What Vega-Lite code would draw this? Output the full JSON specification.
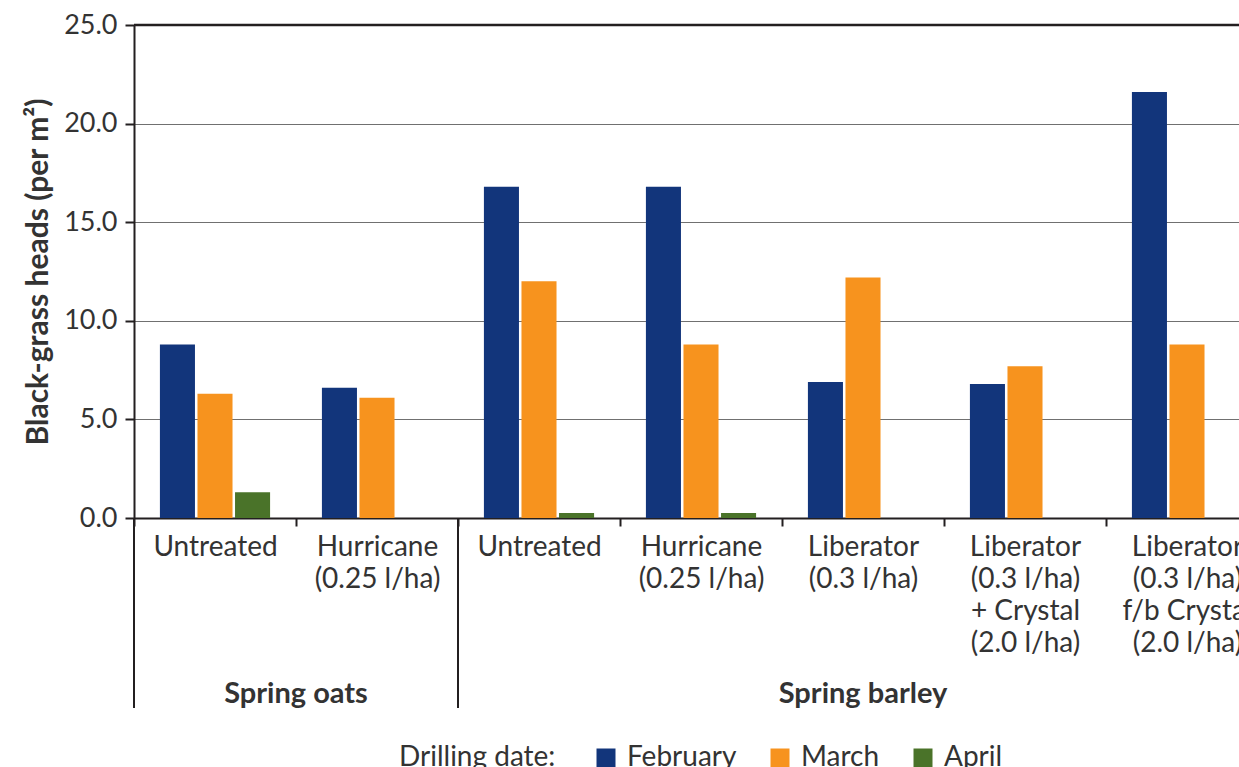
{
  "$schema": "https://vega.github.io/schema/vega-lite/v6.json",
  "width": 1134,
  "height": 493,
  "padding": {"left": 23, "top": 11, "right": 0, "bottom": 0},
  "autosize": {"type": "pad"},
  "config": {
    "font": "Lato",
    "view": {"stroke": null},
    "axis": {"labelColor": "#333333", "titleColor": "#333333"},
    "legend": {"layout": {"bottom": {"anchor": "middle"}}}
  },
  "datasets": {
    "bars": [
      {"t": "oats|Untreated", "date": "February", "heads": 8.8},
      {"t": "oats|Untreated", "date": "March", "heads": 6.3},
      {"t": "oats|Untreated", "date": "April", "heads": 1.3},
      {"t": "oats|Hurricane|(0.25 l/ha)", "date": "February", "heads": 6.6},
      {"t": "oats|Hurricane|(0.25 l/ha)", "date": "March", "heads": 6.1},
      {"t": "barley|Untreated", "date": "February", "heads": 16.8},
      {"t": "barley|Untreated", "date": "March", "heads": 12.0},
      {"t": "barley|Untreated", "date": "April", "heads": 0.25},
      {"t": "barley|Hurricane|(0.25 l/ha)", "date": "February", "heads": 16.8},
      {"t": "barley|Hurricane|(0.25 l/ha)", "date": "March", "heads": 8.8},
      {"t": "barley|Hurricane|(0.25 l/ha)", "date": "April", "heads": 0.25},
      {"t": "barley|Liberator|(0.3 l/ha)", "date": "February", "heads": 6.9},
      {"t": "barley|Liberator|(0.3 l/ha)", "date": "March", "heads": 12.2},
      {"t": "barley|Liberator|(0.3 l/ha)|+ Crystal|(2.0 l/ha)", "date": "February", "heads": 6.8},
      {"t": "barley|Liberator|(0.3 l/ha)|+ Crystal|(2.0 l/ha)", "date": "March", "heads": 7.7},
      {"t": "barley|Liberator|(0.3 l/ha)|f/b Crystal|(2.0 l/ha)", "date": "February", "heads": 21.6},
      {"t": "barley|Liberator|(0.3 l/ha)|f/b Crystal|(2.0 l/ha)", "date": "March", "heads": 8.8}
    ],
    "crops": [
      {"crop": "Spring oats", "first": "oats|Untreated", "mid": "oats|Hurricane|(0.25 l/ha)"},
      {"crop": "Spring barley", "first": "barley|Untreated", "mid": "barley|Liberator|(0.3 l/ha)"}
    ]
  },
  "layer": [
    {
      "data": {"name": "bars"},
      "mark": {"type": "bar"},
      "encoding": {
        "x": {
          "field": "t",
          "type": "nominal",
          "sort": null,
          "scale": {
            "domain": [
              "oats|Untreated",
              "oats|Hurricane|(0.25 l/ha)",
              "barley|Untreated",
              "barley|Hurricane|(0.25 l/ha)",
              "barley|Liberator|(0.3 l/ha)",
              "barley|Liberator|(0.3 l/ha)|+ Crystal|(2.0 l/ha)",
              "barley|Liberator|(0.3 l/ha)|f/b Crystal|(2.0 l/ha)"
            ],
            "paddingInner": 0,
            "paddingOuter": 0
          },
          "axis": {
            "title": null,
            "labelExpr": "slice(split(datum.value, '|'), 1)",
            "labelAngle": 0,
            "labelFontSize": 28,
            "labelLineHeight": 32.3,
            "labelPadding": 7,
            "labelBaseline": "top",
            "tickBand": "extent",
            "tickSize": 8,
            "tickWidth": 2,
            "tickColor": "#231f20",
            "domainColor": "#231f20",
            "domainWidth": 2,
            "grid": false
          }
        },
        "xOffset": {
          "field": "date",
          "type": "nominal",
          "sort": ["February", "March", "April"],
          "scale": {"paddingInner": 0.067, "paddingOuter": 0.69}
        },
        "y": {
          "field": "heads",
          "type": "quantitative",
          "scale": {"domain": [0, 25], "nice": false},
          "axis": {
            "title": "Black-grass heads (per m²)",
            "titleFontSize": 30,
            "titleFontWeight": "bold",
            "titlePadding": 10,
            "values": [0, 5, 10, 15, 20, 25],
            "format": ".1f",
            "labelFontSize": 27,
            "labelPadding": 8,
            "tickSize": 9,
            "tickWidth": 2,
            "tickColor": "#231f20",
            "domainColor": "#231f20",
            "domainWidth": 2,
            "grid": true,
            "gridColor": "#707070",
            "gridWidth": 1
          }
        },
        "color": {
          "field": "date",
          "type": "nominal",
          "sort": ["February", "March", "April"],
          "scale": {"domain": ["February", "March", "April"], "range": ["#12357b", "#f7931e", "#4a7329"]},
          "legend": {
            "title": "Drilling date:",
            "orient": "bottom",
            "direction": "horizontal",
            "titleOrient": "left",
            "titleFontWeight": "normal",
            "titleFontSize": 28,
            "titleColor": "#333333",
            "titlePadding": 36,
            "labelFontSize": 28,
            "labelColor": "#333333",
            "symbolType": "square",
            "symbolSize": 361,
            "symbolStrokeWidth": 0,
            "symbolOpacity": 1,
            "columnPadding": 29,
            "labelOffset": 7,
            "offset": 86
          }
        }
      }
    },
    {
      "data": {"values": [{}]},
      "mark": {"type": "rule", "color": "#231f20", "strokeWidth": 2.5},
      "encoding": {"y": {"datum": 25}}
    },
    {
      "data": {"name": "crops"},
      "mark": {"type": "rule", "color": "#231f20", "strokeWidth": 2},
      "encoding": {
        "x": {"field": "first", "type": "nominal", "bandPosition": 0},
        "y": {"datum": 0},
        "y2": {"datum": -9.63}
      }
    },
    {
      "data": {"name": "crops"},
      "transform": [{"filter": "datum.crop == 'Spring oats'"}],
      "mark": {"type": "text", "fontSize": 29, "fontWeight": "bold", "color": "#333333", "baseline": "middle"},
      "encoding": {
        "x": {"field": "first", "type": "nominal", "bandPosition": 1},
        "y": {"datum": -8.9},
        "text": {"field": "crop"}
      }
    },
    {
      "data": {"name": "crops"},
      "transform": [{"filter": "datum.crop == 'Spring barley'"}],
      "mark": {"type": "text", "fontSize": 29, "fontWeight": "bold", "color": "#333333", "baseline": "middle"},
      "encoding": {
        "x": {"field": "mid", "type": "nominal", "bandPosition": 0.5},
        "y": {"datum": -8.9},
        "text": {"field": "crop"}
      }
    }
  ]
}
